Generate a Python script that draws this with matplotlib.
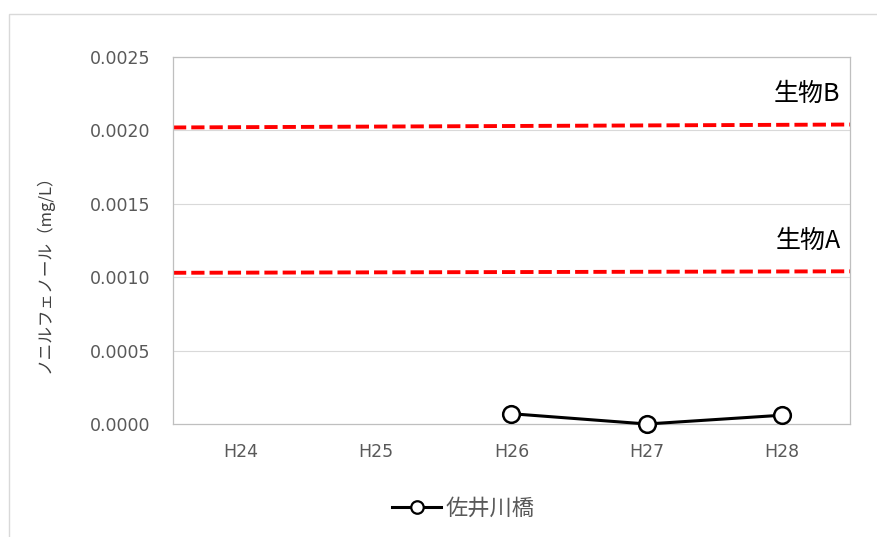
import matplotlib.pyplot as plt
from matplotlib.patches import Rectangle
from matplotlib.lines import Line2D

plt.rcParams['font.family'] = ['Noto Sans CJK JP', 'DejaVu Sans']

years = ['H24', 'H25', 'H26', 'H27', 'H28']
# 佐井川橋 measurements (None = not measured)
saigawa = [None, None, 0.00007, 0.0, 0.00006]
# environmental standard lines, value at left and right edge
bio_a = [0.00103, 0.00104]
bio_b = [0.00202, 0.00204]
y_ticks = [0.0, 0.0005, 0.0010, 0.0015, 0.0020, 0.0025]

fig = plt.figure(figsize=(8.78, 5.37), dpi=100)
fig.patches.append(Rectangle((9 / 878, -0.01), 1.0, 1 - 14 / 537 + 0.01,
                             transform=fig.transFigure, fill=False,
                             edgecolor='#d9d9d9', linewidth=1.0))
ax = fig.add_axes([173 / 878, 1 - 424 / 537, 677 / 878, 367 / 537])

grid_c = '#d9d9d9'
for v in y_ticks[1:]:
    ax.axhline(v, color=grid_c, linewidth=0.8, zorder=0)

# standard lines
ax.plot([-0.5, 4.5], bio_b, color='#ff0000', linewidth=2.8,
        dashes=(3.4, 1.3), zorder=2)
ax.plot([-0.5, 4.5], bio_a, color='#ff0000', linewidth=2.8,
        dashes=(3.4, 1.3), zorder=2)
ax.text(4.43, bio_b[1] + 0.00021, '生物B', ha='right', va='center',
        fontsize=18, color='black')
ax.text(4.43, bio_a[1] + 0.00021, '生物A', ha='right', va='center',
        fontsize=18, color='black')

xs = [i for i, v in enumerate(saigawa) if v is not None]
ys = [v for v in saigawa if v is not None]
ax.plot(xs, ys, color='black', linewidth=2.2, marker='o', markersize=12,
        markerfacecolor='white', markeredgecolor='black',
        markeredgewidth=1.8, zorder=3, clip_on=False)

ax.set_xlim(-0.5, 4.5)
ax.set_ylim(0, 0.0025)
ax.set_xticks(range(len(years)))
ax.set_xticklabels(years, family='DejaVu Sans')
ax.set_yticks(y_ticks)
ax.set_yticklabels([f'{v:.4f}' for v in y_ticks], family='DejaVu Sans')
ax.tick_params(axis='both', length=0, labelsize=12.5, colors='#595959')
ax.tick_params(axis='x', pad=14)
ax.tick_params(axis='y', pad=16)
for s in ax.spines.values():
    s.set_color('#bfbfbf')
    s.set_linewidth(0.9)

ax.set_ylabel('ノニルフェノール（mg/L）', fontsize=12, color='#404040')
ax.yaxis.set_label_coords(-0.176, 0.42)

handle = Line2D([], [], color='black', linewidth=2.2, marker='o',
                markersize=9, markerfacecolor='white',
                markeredgecolor='black', markeredgewidth=1.6)
fig.legend([handle], ['佐井川橋'], loc='center',
           bbox_to_anchor=(0.528, 1 - 508 / 537), frameon=False,
           fontsize=16, labelcolor='#595959', handlelength=2.2,
           handletextpad=0.2)

fig.savefig('out.png', dpi=100)
